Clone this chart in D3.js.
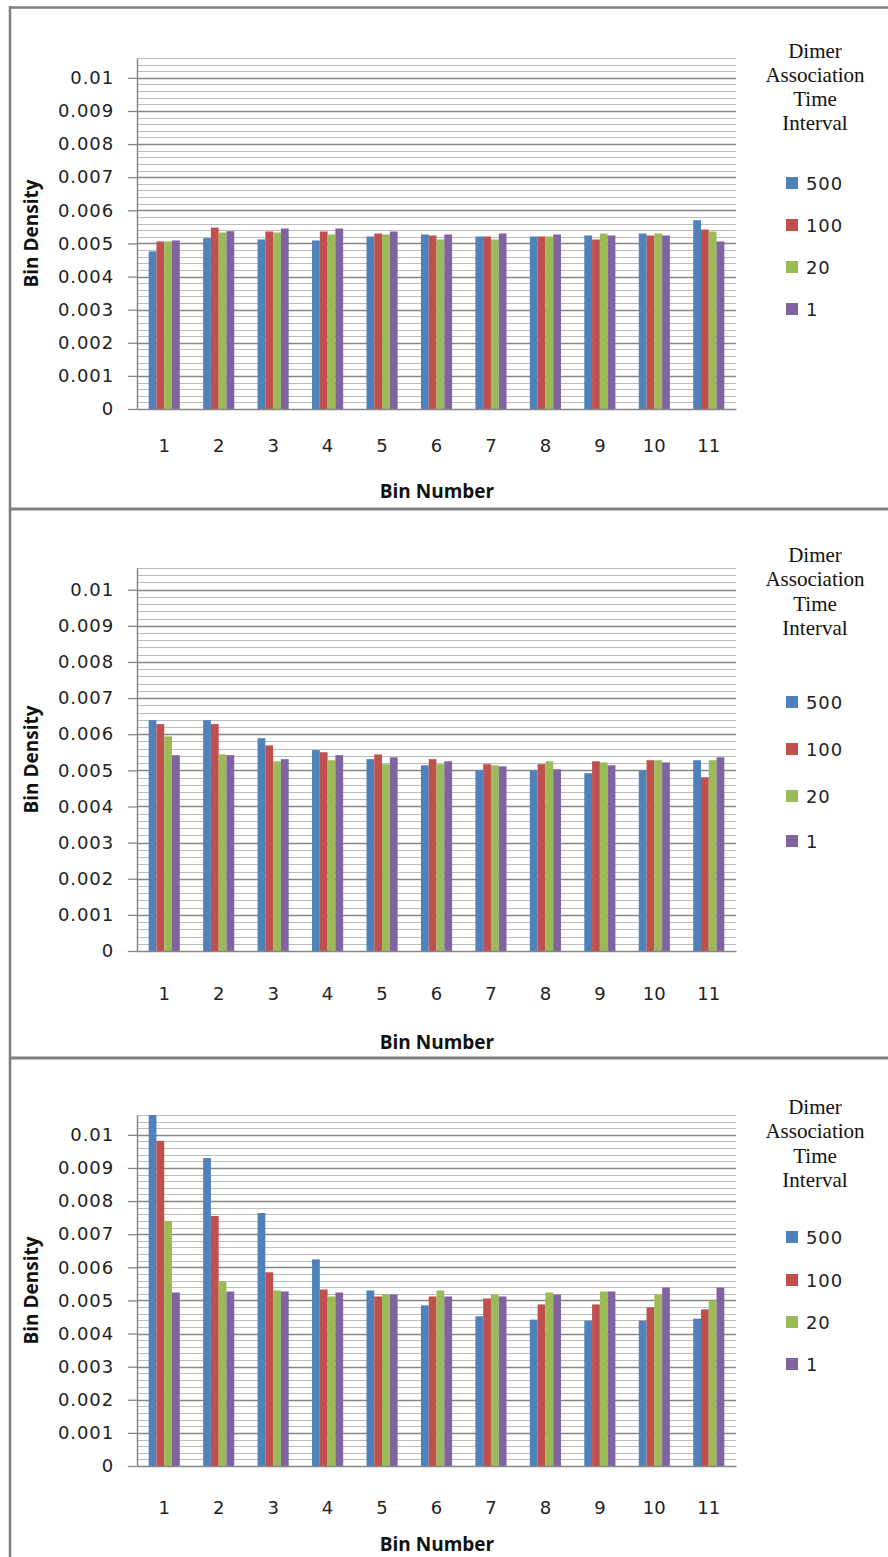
<!DOCTYPE html>
<html>
<head>
<meta charset="utf-8">
<script src="https://cdn.jsdelivr.net/npm/d3@7"></script>
<style>
  html, body { margin: 0; padding: 0; background: #fff; }
  svg { display: block; }
</style>
</head>
<body>
<svg id="chart" width="888" height="1557"></svg>
<script>
// ---------- data ----------
const categories = ["1","2","3","4","5","6","7","8","9","10","11"];
const seriesNames = ["500","100","20","1"];
const seriesColors = ["#4F81BD","#C0504D","#9BBB59","#8064A2"];
const yTicks = [0,0.001,0.002,0.003,0.004,0.005,0.006,0.007,0.008,0.009,0.01];
const yTickLabels = ["0","0.001","0.002","0.003","0.004","0.005","0.006","0.007","0.008","0.009","0.01"];
const legendTitle = ["Dimer","Association","Time","Interval"];

// Panel 1
const p1_500 = [0.00476,0.00516,0.00512,0.00509,0.00521,0.00527,0.00521,0.00521,0.00524,0.00530,0.00570];
const p1_100 = [0.00506,0.00548,0.00536,0.00536,0.00530,0.00524,0.00521,0.00521,0.00512,0.00524,0.00542];
const p1_20  = [0.00506,0.00533,0.00533,0.00527,0.00527,0.00512,0.00512,0.00521,0.00530,0.00530,0.00536];
const p1_1   = [0.00509,0.00537,0.00545,0.00545,0.00536,0.00527,0.00530,0.00527,0.00524,0.00524,0.00506];
// Panel 2
const p2_500 = [0.00639,0.00639,0.00589,0.00556,0.00531,0.00514,0.00500,0.00500,0.00492,0.00500,0.00528];
const p2_100 = [0.00628,0.00628,0.00569,0.00550,0.00544,0.00531,0.00517,0.00517,0.00525,0.00528,0.00481];
const p2_20  = [0.00594,0.00544,0.00525,0.00528,0.00517,0.00517,0.00514,0.00525,0.00522,0.00528,0.00528];
const p2_1   = [0.00542,0.00542,0.00531,0.00542,0.00536,0.00525,0.00511,0.00503,0.00514,0.00522,0.00536];
// Panel 3
const p3_500 = [0.01060,0.00930,0.00764,0.00624,0.00530,0.00485,0.00452,0.00442,0.00439,0.00439,0.00445];
const p3_100 = [0.00982,0.00755,0.00585,0.00533,0.00512,0.00512,0.00506,0.00488,0.00488,0.00479,0.00473];
const p3_20  = [0.00740,0.00558,0.00530,0.00512,0.00518,0.00530,0.00518,0.00524,0.00527,0.00518,0.00500];
const p3_1   = [0.00524,0.00527,0.00527,0.00524,0.00518,0.00512,0.00512,0.00518,0.00527,0.00539,0.00539];

const yMax = 0.0106;
const minorStep = 0.0002;

// ---------- layout ----------
const panels = [
  { data: [p1_500,p1_100,p1_20,p1_1], top: 58,   bottom: 409,  xLab: 445,  xTitle: 491,
    legTitle: [58,82,106,130], legItems: [183,225,267,309] },
  { data: [p2_500,p2_100,p2_20,p2_1], top: 568,  bottom: 951,  xLab: 993,  xTitle: 1042,
    legTitle: [562,586,611,635], legItems: [702,749,796,841] },
  { data: [p3_500,p3_100,p3_20,p3_1], top: 1115, bottom: 1466, xLab: 1507, xTitle: 1544,
    legTitle: [1114,1138,1163,1187], legItems: [1237,1280,1322,1364] }
];
const plotLeft = 137, plotRight = 736;
const tickFont = "'DejaVu Sans', Verdana, sans-serif";
const titleFont = "'Open Sans', 'Noto Sans', sans-serif";
const serifFont = "'Liberation Serif', 'Times New Roman', serif";

const svg = d3.select("#chart");

// frame
const frameColor = "#7f7f7f";
svg.append("line").attr("x1",9).attr("x2",888).attr("y1",7.5).attr("y2",7.5)
  .attr("stroke",frameColor).attr("stroke-width",2.5);
svg.append("line").attr("x1",10).attr("x2",10).attr("y1",6).attr("y2",1557)
  .attr("stroke",frameColor).attr("stroke-width",2.5);
[509,1058].forEach(y => {
  svg.append("line").attr("x1",9).attr("x2",888).attr("y1",y).attr("y2",y)
    .attr("stroke",frameColor).attr("stroke-width",3);
});

const x0 = d3.scaleBand().domain(categories).range([plotLeft, plotRight]).paddingInner(0).paddingOuter(0);
const groupW = x0.bandwidth() / 1.75;
const x1 = d3.scaleBand().domain(seriesNames).range([0, groupW]).padding(0);

panels.forEach(p => {
  const y = d3.scaleLinear().domain([0, yMax]).range([p.bottom, p.top]);
  const g = svg.append("g");

  // gridlines
  const minors = d3.range(0, Math.round(yMax/minorStep)+1).map(i => +(i*minorStep).toFixed(5));
  g.append("g").selectAll("line").data(minors.filter(v => Math.round(v*10000) % 10 !== 0))
    .join("line")
    .attr("x1", plotLeft).attr("x2", plotRight)
    .attr("y1", d => Math.round(y(d))+0.5).attr("y2", d => Math.round(y(d))+0.5)
    .attr("stroke", "#bcbcbc").attr("stroke-width", 1.2);
  g.append("g").selectAll("line").data(yTicks.filter(v => v > 0))
    .join("line")
    .attr("x1", plotLeft).attr("x2", plotRight)
    .attr("y1", d => Math.round(y(d))+0.5).attr("y2", d => Math.round(y(d))+0.5)
    .attr("stroke", "#868686").attr("stroke-width", 1.3);

  // bars
  const bars = g.append("g");
  p.data.forEach((vals, si) => {
    bars.selectAll(null).data(vals).join("rect")
      .attr("x", (d,i) => x0(categories[i]) + (x0.bandwidth()-groupW)/2 + x1(seriesNames[si]))
      .attr("width", x1.bandwidth())
      .attr("y", d => y(Math.min(d, yMax)))
      .attr("height", d => p.bottom - y(Math.min(d, yMax)))
      .attr("fill", seriesColors[si]);
  });

  // y axis
  const yAxis = d3.axisLeft(y).tickValues(yTicks)
    .tickFormat((d,i) => yTickLabels[i]).tickSize(9).tickSizeOuter(0).tickPadding(14);
  const ya = g.append("g").attr("transform", `translate(${plotLeft},0)`).call(yAxis);
  ya.select(".domain").attr("stroke","#868686").attr("stroke-width",1.5);
  ya.selectAll(".tick line").attr("stroke","#868686").attr("stroke-width",1.3);
  ya.selectAll(".tick text").attr("font-family", tickFont).attr("font-size", 18)
    .attr("letter-spacing", "0.9px").attr("fill","#222");

  // x axis
  const xAxis = d3.axisBottom(x0).tickSize(0).tickSizeOuter(0).tickPadding(0);
  const xa = g.append("g").attr("transform", `translate(0,${p.bottom})`).call(xAxis);
  xa.select(".domain").attr("stroke","#868686").attr("stroke-width",1.5);
  xa.selectAll(".tick text").attr("font-family", tickFont).attr("font-size", 18)
    .attr("fill","#222").attr("dy", null)
    .attr("y", p.xLab - p.bottom).attr("dominant-baseline","central");

  // axis titles
  g.append("text").attr("x", (plotLeft+plotRight)/2 + 0.5).attr("y", p.xTitle)
    .attr("text-anchor","middle").attr("dominant-baseline","central")
    .attr("font-family", titleFont).attr("font-weight","bold").attr("font-size",19)
    .attr("fill","#111").text("Bin Number");
  g.append("text")
    .attr("transform", `translate(31,${(p.top+p.bottom)/2}) rotate(-90)`)
    .attr("text-anchor","middle").attr("dominant-baseline","central")
    .attr("font-family", titleFont).attr("font-weight","bold").attr("font-size",19)
    .attr("fill","#111").text("Bin Density");

  // legend
  const leg = g.append("g");
  leg.selectAll("text.lt").data(legendTitle).join("text").attr("class","lt")
    .attr("x", 815).attr("y", (d,i) => p.legTitle[i])
    .attr("text-anchor","middle").attr("font-family", serifFont).attr("font-size", 21)
    .attr("fill","#111").text(d => d);
  const items = leg.selectAll("g.li").data(seriesNames).join("g").attr("class","li")
    .attr("transform", (d,i) => `translate(786,${p.legItems[i]})`);
  items.append("rect").attr("x",0).attr("y",-6).attr("width",12).attr("height",12)
    .attr("fill", (d,i) => seriesColors[i]);
  items.append("text").attr("x", 20).attr("y", 0).attr("dominant-baseline","central")
    .attr("font-family", tickFont).attr("font-size", 18).attr("letter-spacing","0.9px")
    .attr("fill","#222").text(d => d);
});
</script>
</body>
</html>
